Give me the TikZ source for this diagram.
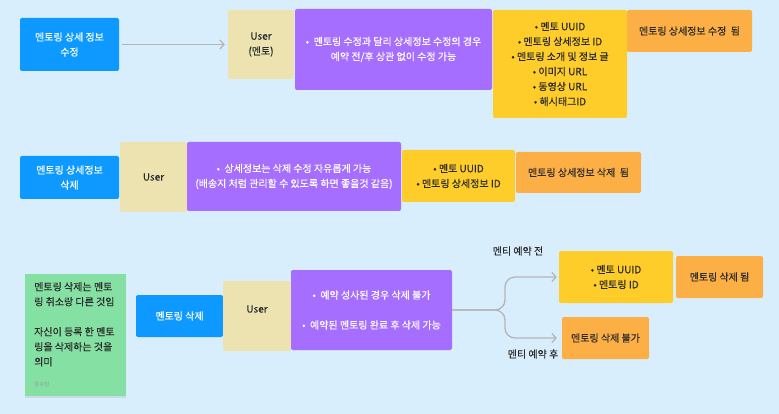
\documentclass[tikz,border=0pt]{standalone}
\usepackage{fontspec}
\setmainfont{Noto Sans CJK KR}[FakeBold=0.3]
\newfontfamily\notefont{Noto Sans CJK KR}
\usetikzlibrary{arrows.meta,shadows}

\definecolor{bgc}{HTML}{D9EEFD}
\definecolor{bluec}{HTML}{0D99FF}
\definecolor{userc}{HTML}{EDE3B1}
\definecolor{purplec}{HTML}{A66EFF}
\definecolor{yellowc}{HTML}{FFCD29}
\definecolor{orangec}{HTML}{FBAF45}
\definecolor{greenc}{HTML}{85E0A3}
\definecolor{inkc}{HTML}{2A2A2A}
\definecolor{linec}{HTML}{B5B5B5}

\tikzset{
  x=1pt, y=-1pt,
  card/.style={rounded corners=2pt, inner sep=2pt, align=center,
    font=\fontsize{10}{15}\selectfont},
  bluebox/.style={card, fill=bluec, text=white},
  userbox/.style={card, fill=userc, text=inkc},
  purplebox/.style={card, fill=purplec, text=white},
  yellowbox/.style={card, fill=yellowc, text=inkc},
  orangebox/.style={card, fill=orangec, text=inkc},
  notebox/.style={fill=greenc, drop shadow={opacity=0.18, shadow xshift=0pt, shadow yshift=-2pt}},
  plain/.style={inner sep=0pt, text=inkc, font=\fontsize{10}{15}\selectfont},
  conn/.style={draw=linec, line width=1.3pt, -{Straight Barb[length=4pt,width=9pt]}},
}

\begin{document}
\begin{tikzpicture}
  \fill[bgc] (0,0) rectangle (779,414);
  \useasboundingbox (0,0) rectangle (779,414);

  % first row: editing the detail information
  \node[bluebox, minimum width=99pt, minimum height=53pt] (b1) at (69.5,44.5) {멘토링 상세 정보\\수정};
  \node[userbox, minimum width=66pt, minimum height=69pt] (u1) at (261,44.5) {User\\(멘토)};
  \node[purplebox, minimum width=197pt, minimum height=81pt] (p1) at (393.5,49.5)
    {•\ \ 멘토링 수정과 달리 상세정보 수정의 경우\\예약 전/후 상관 없이 수정 가능};
  \node[yellowbox, minimum width=134pt, minimum height=108pt] (y1) at (560,64)
    {•\ 멘토 UUID\\•\ 멘토링 상세정보 ID\\•\ 멘토링 소개 및 정보 글\\•\ 이미지 URL\\•\ 동영상 URL\\•\ 해시태그ID};
  \node[orangebox, minimum width=125pt, minimum height=42pt] (o1) at (689.5,31) {멘토링 상세정보 수정\ \ 됨};
  \draw[conn, shorten <=3pt, shorten >=3pt] (b1.east) -- (u1.west);

  % second row: deleting the detail information
  \node[bluebox, minimum width=99pt, minimum height=43pt] (b2) at (69.5,177.5) {멘토링 상세정보\\삭제};
  \node[userbox, minimum width=67pt, minimum height=70pt] (u2) at (153.5,177) {User};
  \node[purplebox, minimum width=214pt, minimum height=69pt] (p2) at (294,176.5)
    {•\ \ 상세정보는 삭제 수정 자유롭게 가능\\(배송지 처럼 관리할 수 있도록 하면 좋을것 같음)};
  \node[yellowbox, minimum width=113pt, minimum height=52pt] (y2) at (458.5,176)
    {•\ 멘토 UUID\\•\ 멘토링 상세정보 ID};
  \node[orangebox, minimum width=125pt, minimum height=41pt] (o2) at (578.5,172.5) {멘토링 상세정보 삭제\ \ 됨};

  % third row: deleting a mentoring
  \node[notebox, minimum width=101pt, minimum height=122pt, inner sep=0pt] (g) at (75.5,335) {};
  \node[plain, anchor=north west, align=left] (gtext) at (34,282)
    {멘토링 삭제는 멘토\\링 취소랑 다른 것임\\[15pt]자신이 등록 한 멘토\\링을 삭제하는 것을\\의미};
  \node[plain, anchor=west, text=inkc!50, font=\notefont\fontsize{5.5}{6}\selectfont] (gname) at (34,384) {강수빈};

  \node[bluebox, minimum width=87pt, minimum height=42pt] (b3) at (179.5,316) {멘토링 삭제};
  \node[userbox, minimum width=68pt, minimum height=70pt] (u3) at (257,316) {};
  \node[plain] (u3text) at (257,309) {User};
  \node[purplebox, minimum width=161pt, minimum height=80pt] (p3) at (371.5,310)
    {•\ \ 예약 성사된 경우 삭제 불가\\[15pt]•\ \ 예약된 멘토링 완료 후 삭제 가능};
  \node[yellowbox, minimum width=114pt, minimum height=52pt] (y3) at (616,277)
    {•\ 멘토 UUID\\•\ 멘토링 ID};
  \node[orangebox, minimum width=87pt, minimum height=42pt] (o3a) at (719.5,277) {멘토링 삭제 됨};
  \node[orangebox, minimum width=87pt, minimum height=42pt] (o3b) at (605.5,338) {멘토링 삭제 불가};

  \coordinate (fork) at (505,310);
  \draw[conn, rounded corners=10pt, shorten >=2pt] (p3.east) -- (fork) |- (y3.west);
  \draw[conn, rounded corners=10pt, shorten >=5pt] (p3.east) -- (fork) |- (o3b.west);

  \node[plain] (before) at (518,251) {멘티 예약 전};
  \node[plain] (after) at (533,354) {멘티 예약 후};
\end{tikzpicture}
\end{document}
